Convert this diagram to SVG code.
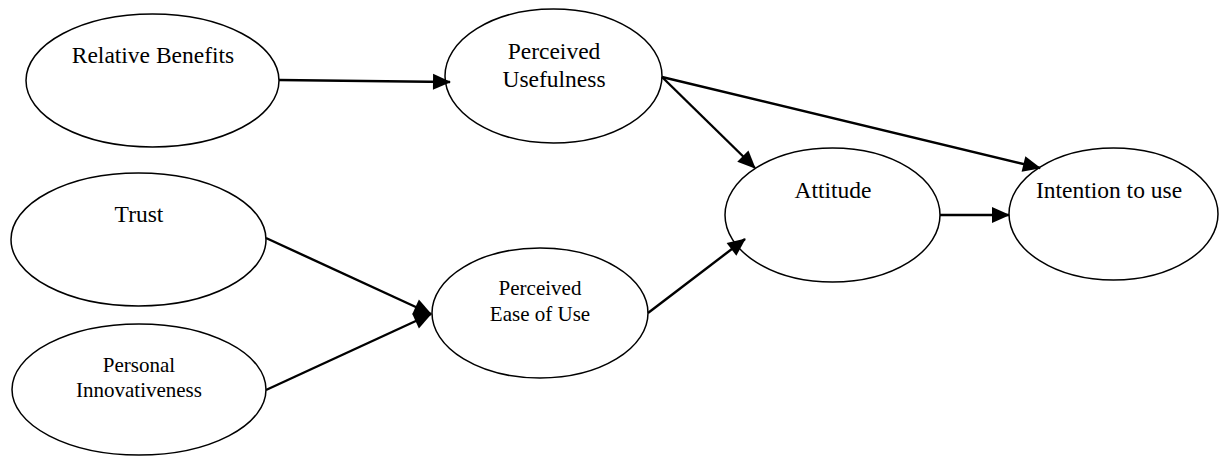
<svg xmlns="http://www.w3.org/2000/svg" width="1221" height="457" viewBox="0 0 1221 457">
<style>
.node ellipse{fill:#fff;stroke:#000;stroke-width:1.5}
.node text{font-size:23.5px;fill:#000;text-anchor:middle}
.node text.sm{font-size:21px}
.edges line{stroke:#000;stroke-width:2.4;fill:none}
</style>
<defs>
<marker id="ah" markerUnits="userSpaceOnUse" viewBox="0 0 18 16" markerWidth="18" markerHeight="16" refX="17" refY="8" orient="auto" overflow="visible">
<path d="M0,0 L18,8 L0,16 z" fill="#000"/>
</marker>
</defs>
<rect width="1221" height="457" fill="#fff"/>
<g font-family="'Liberation Serif', 'Times New Roman', serif">
<g id="relative-benefits" class="node">
<ellipse cx="152.5" cy="80.5" rx="126.5" ry="66.5"/>
<text x="153" y="63">Relative Benefits</text>
</g>
<g id="perceived-usefulness" class="node">
<ellipse cx="553.5" cy="76" rx="108.5" ry="67"/>
<text x="554" y="59">Perceived</text>
<text x="554" y="87">Usefulness</text>
</g>
<g id="trust" class="node">
<ellipse cx="138.5" cy="239.5" rx="127.5" ry="66.5"/>
<text x="139" y="222">Trust</text>
</g>
<g id="personal-innovativeness" class="node">
<ellipse cx="139" cy="389.5" rx="127" ry="65.5"/>
<text class="sm" x="139" y="371.5">Personal</text>
<text class="sm" x="139" y="397">Innovativeness</text>
</g>
<g id="perceived-ease-of-use" class="node">
<ellipse cx="540" cy="313" rx="108" ry="65"/>
<text class="sm" x="540" y="295">Perceived</text>
<text class="sm" x="540" y="321">Ease of Use</text>
</g>
<g id="attitude" class="node">
<ellipse cx="832.5" cy="215" rx="107.5" ry="67"/>
<text x="833" y="198">Attitude</text>
</g>
<g id="intention-to-use" class="node">
<ellipse cx="1113.5" cy="214" rx="104.5" ry="66"/>
<text x="1109" y="198">Intention to use</text>
</g>
</g>
<g id="connectors" class="edges">
<line x1="279" y1="80" x2="450" y2="82" marker-end="url(#ah)"/>
<line x1="266" y1="238" x2="431" y2="314" marker-end="url(#ah)"/>
<line x1="266" y1="390" x2="431" y2="314" marker-end="url(#ah)"/>
<line x1="662" y1="77" x2="755" y2="168" marker-end="url(#ah)"/>
<line x1="662" y1="77" x2="1040" y2="168" marker-end="url(#ah)"/>
<line x1="648" y1="313" x2="745" y2="239" marker-end="url(#ah)"/>
<line x1="940" y1="215" x2="1009" y2="215" marker-end="url(#ah)"/>
</g>
</svg>
